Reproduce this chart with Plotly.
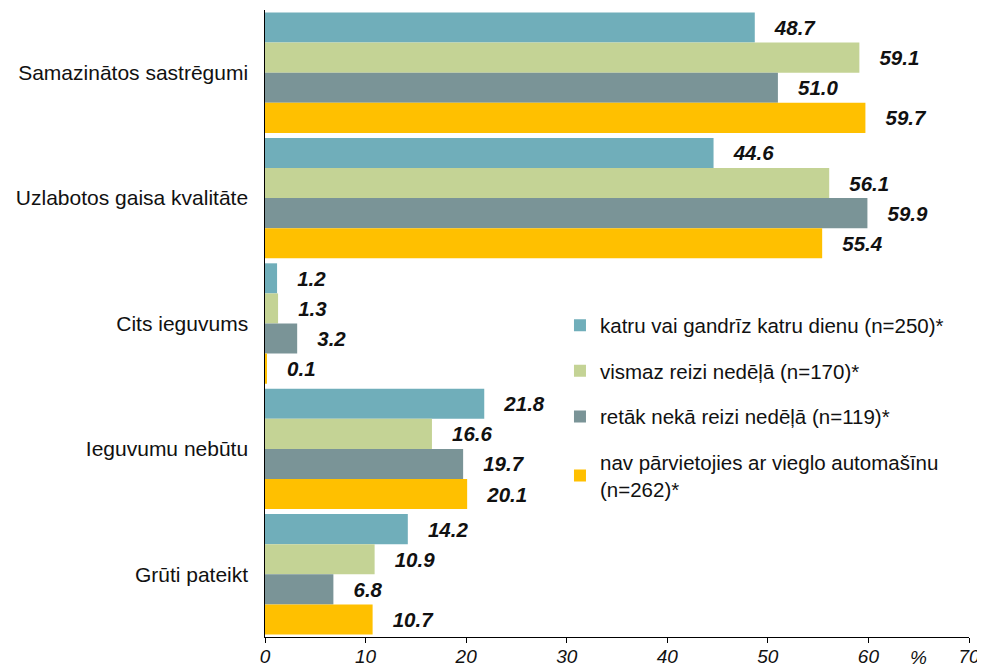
import plotly.graph_objects as go

categories = ['Samazinātos sastrēgumi', 'Uzlabotos gaisa kvalitāte', 'Cits ieguvums',
              'Ieguvumu nebūtu', 'Grūti pateikt']
series_names = ['katru vai gandrīz katru dienu (n=250)*',
                'vismaz reizi nedēļā (n=170)*',
                'retāk nekā reizi nedēļā (n=119)*',
                'nav pārvietojies ar vieglo automašīnu<br>(n=262)*']
daily = [48.7, 44.6, 1.2, 21.8, 14.2]
weekly = [59.1, 56.1, 1.3, 16.6, 10.9]
rarely = [51.0, 59.9, 3.2, 19.7, 6.8]
no_car = [59.7, 55.4, 0.1, 20.1, 10.7]
colors = ['#70AEBA', '#C4D395', '#7A9497', '#FFC000']
x_ticks = [0, 10, 20, 30, 40, 50, 60, 70]

FONT = 'Liberation Sans, Arial'

fig = go.Figure()

for name, vals, col in zip(series_names, [daily, weekly, rarely, no_car], colors):
    fig.add_trace(go.Bar(
        y=categories,
        x=vals,
        name=name,
        legendgroup=name,
        orientation='h',
        marker=dict(color=col, line=dict(width=0)),
        texttemplate='\u00a0\u00a0\u00a0%{x:.1f}',
        textposition='outside',
        textfont=dict(family=FONT, size=20.5, color='#111',
                      weight='bold', style='italic'),
        constraintext='none',
        cliponaxis=False,
    ))

# "%" unit label between the 60 and 70 ticks
fig.add_annotation(x=65, y=0, xref='x', yref='paper', yshift=-8,
                   text='%', showarrow=False, yanchor='top',
                   font=dict(family=FONT, size=19, color='#111', style='italic'))

# page body has an 8px margin, so the figure is 8px smaller than the window
fig.update_layout(
    width=977, height=662,
    margin=dict(l=257, r=16, t=2, b=33),
    barmode='group',
    bargap=0.04,
    bargroupgap=0,
    plot_bgcolor='white',
    paper_bgcolor='white',
    font=dict(family=FONT, size=20, color='#111'),
    xaxis=dict(
        range=[0, 70],
        tickvals=x_ticks,
        showgrid=False,
        zeroline=False,
        automargin=False,
        showline=True, linecolor='black', linewidth=1,
        ticks='outside', ticklen=5, tickcolor='black',
        ticklabelstandoff=-3,
        tickfont=dict(size=19, style='italic'),
    ),
    yaxis=dict(
        autorange='reversed',
        showgrid=False,
        automargin=False,
        showline=True, linecolor='black', linewidth=1,
        ticks='', ticksuffix='  ',
        tickfont=dict(size=21),
    ),
    legend=dict(
        x=0.419, y=0.529, xanchor='left', yanchor='top',
        traceorder='grouped',
        tracegroupgap=16,
        itemwidth=30,
        font=dict(size=20.5),
        bgcolor='rgba(0,0,0,0)',
    ),
)

fig.write_html('out.html')
